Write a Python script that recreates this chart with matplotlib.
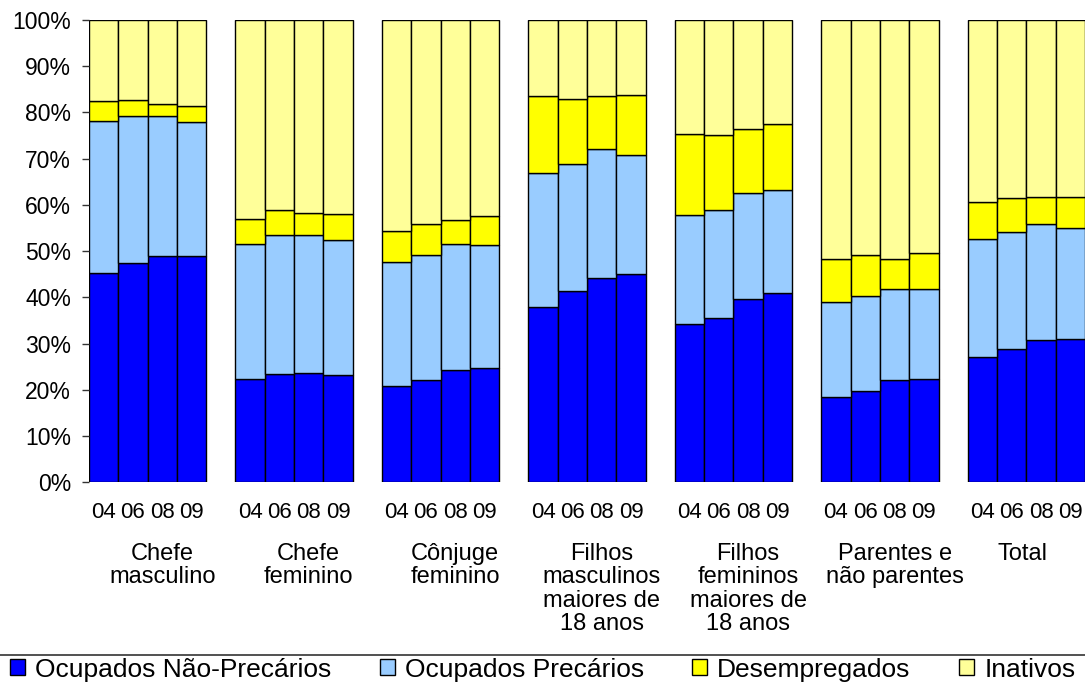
import matplotlib
matplotlib.use("Agg")
import matplotlib.pyplot as plt
from matplotlib.patches import Patch
from matplotlib.lines import Line2D

plt.rcParams['font.family'] = ['Liberation Sans', 'DejaVu Sans']

years = ['04', '06', '08', '09']
groups = ['Chefe\nmasculino', 'Chefe\nfeminino', 'Cônjuge\nfeminino',
          'Filhos\nmasculinos\nmaiores de\n18 anos',
          'Filhos\nfemininos\nmaiores de\n18 anos',
          'Parentes e\nnão parentes', 'Total']

# shares (%) per group, years 04 06 08 09
nao_precarios = [[45.3, 47.4, 49.0, 48.9], [22.4, 23.4, 23.6, 23.3],
                 [20.8, 22.1, 24.3, 24.8], [37.9, 41.4, 44.3, 45.1],
                 [34.3, 35.5, 39.7, 41.0], [18.5, 19.8, 22.1, 22.4],
                 [27.2, 28.8, 30.8, 30.9]]
precarios = [[32.9, 31.8, 30.3, 29.0], [29.1, 30.2, 29.8, 29.1],
             [26.8, 27.0, 27.2, 26.6], [29.1, 27.5, 27.9, 25.6],
             [23.5, 23.3, 22.9, 22.2], [20.4, 20.5, 19.8, 19.5],
             [25.4, 25.3, 25.1, 24.2]]
desempregados = [[4.2, 3.6, 2.6, 3.4], [5.5, 5.2, 4.8, 5.6],
                 [6.8, 6.7, 5.2, 6.1], [16.6, 14.0, 11.4, 13.1],
                 [17.6, 16.4, 13.9, 14.4], [9.3, 8.9, 6.5, 7.6],
                 [8.0, 7.4, 5.8, 6.6]]
inativos = [[17.6, 17.2, 18.1, 18.7], [43.0, 41.2, 41.8, 42.0],
            [45.6, 44.2, 43.3, 42.5], [16.4, 17.1, 16.4, 16.2],
            [24.6, 24.8, 23.5, 22.4], [51.8, 50.8, 51.6, 50.5],
            [39.4, 38.5, 38.3, 38.3]]

series = ['Ocupados Não-Precários', 'Ocupados Precários', 'Desempregados', 'Inativos']
colors = ['#0000FF', '#99CCFF', '#FFFF00', '#FFFF99']
data = [nao_precarios, precarios, desempregados, inativos]

fig = plt.figure(figsize=(10.85, 6.85), dpi=100)
ax = fig.add_axes([89/1085, (685-482.3)/685, 1 - 89/1085, 462.3/685])

slot = len(years) + 1
xs, labs = [], []
for g in range(len(groups)):
    bottom = [0.0] * len(years)
    x = [g*slot + j for j in range(len(years))]
    for s in range(len(series)):
        vals = data[s][g]
        ax.bar(x, vals, width=1, bottom=bottom, align='edge', color=colors[s],
               edgecolor='black', linewidth=1.0)
        bottom = [b + v for b, v in zip(bottom, vals)]
    xs += [xi + 0.5 for xi in x]
    labs += years
    # last label gets squeezed back toward its bars (chart is cut on the right)
    lx = g*slot + 2.5 if g < len(groups) - 1 else g*slot + 1.85
    ax.text(lx, -0.131, groups[g], transform=ax.get_xaxis_transform(),
            ha='center', va='top', fontsize=17, linespacing=1.08)

ax.set_xlim(0, len(groups)*slot - 1)
ax.set_ylim(0, 100)
ax.set_xticks(xs)
ax.set_xticklabels(labs, fontsize=16)
ax.tick_params(axis='x', length=0, pad=14)
ax.set_yticks(range(0, 101, 10))
ax.set_yticklabels([f'{v}%' for v in range(0, 101, 10)], fontsize=16.5)
ax.tick_params(axis='y', length=5, width=1, pad=8, color='#333333')
for sp in ax.spines.values():
    sp.set_visible(False)

handles = [Patch(facecolor=c, edgecolor='black', linewidth=1) for c in colors]
fig.legend(handles, series, loc='upper left', bbox_to_anchor=(7/1085, 30/685),
           ncol=4, frameon=False, fontsize=19, handlelength=0.57, handleheight=0.57,
           handletextpad=0.38, columnspacing=1.84, borderpad=0.1, borderaxespad=0)
fig.add_artist(Line2D([0, 1], [30/685, 30/685], transform=fig.transFigure,
                      color='#333333', linewidth=1.2))

fig.savefig('out.png', dpi=100)
